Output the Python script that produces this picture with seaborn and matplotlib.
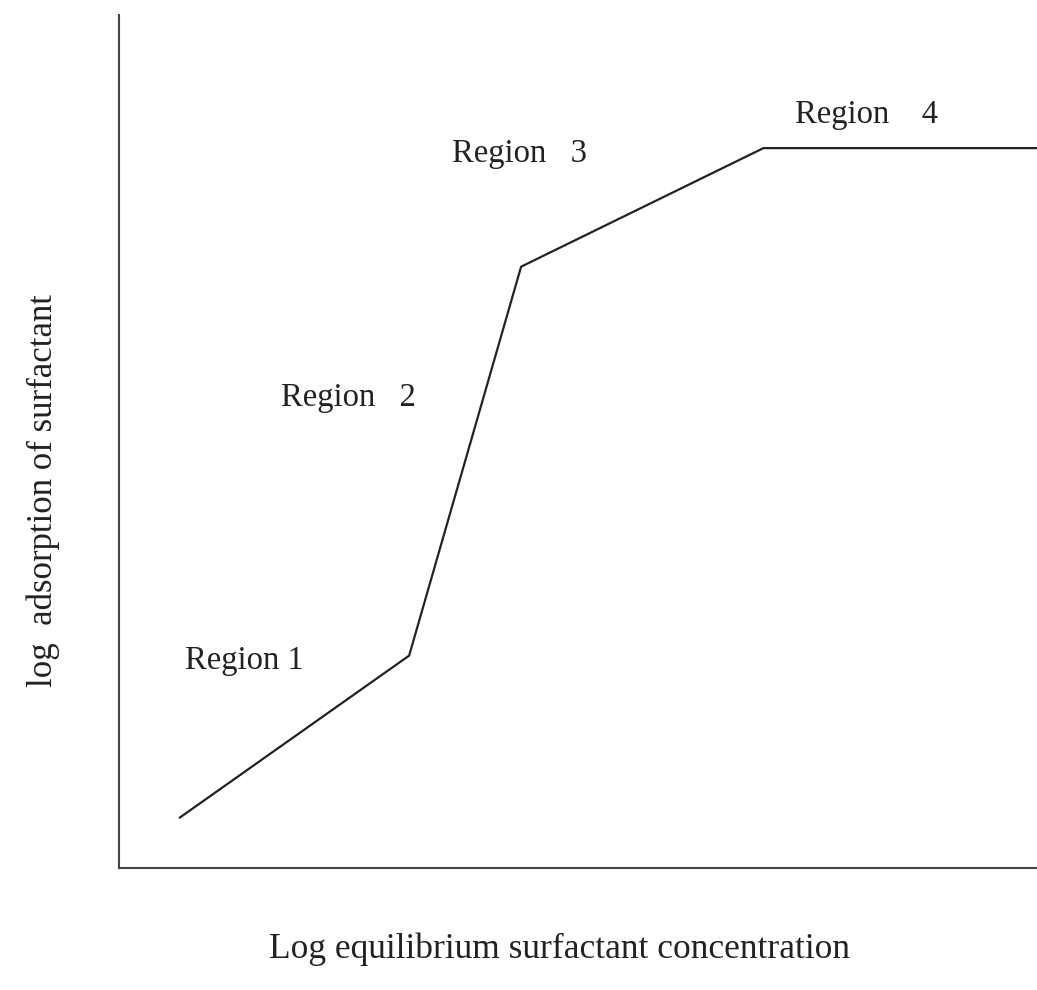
import numpy as np
import pandas as pd
import matplotlib.pyplot as plt
import seaborn as sns

# schematic adsorption isotherm (arbitrary units, 0-10 on both axes)
log_conc = [0.66, 3.16, 4.38, 7.02, 10.0]
log_ads = [0.59, 2.49, 7.05, 8.44, 8.44]

region_labels = ['Region 1', 'Region   2', 'Region   3', 'Region    4']
label_x = [0.72, 1.76, 3.63, 7.36]
label_y = [2.33, 5.42, 8.28, 8.73]

sns.set_style('white')
plt.rcParams['font.family'] = ['Liberation Serif', 'DejaVu Serif']

df = pd.DataFrame({'conc': log_conc, 'ads': log_ads})

fig = plt.figure(figsize=(10.37, 9.9), dpi=100)
ax = fig.add_axes([0.1148, 0.1232, 0.8852, 0.8616])

sns.lineplot(x='conc', y='ads', data=df, ax=ax, color='#222222',
             linewidth=1.6, sort=False)

for lab, x, y in zip(region_labels, label_x, label_y):
    ax.text(x, y, lab, fontsize=23.5, color='#222222', va='baseline', ha='left')

ax.set_xlim(0, 10)
ax.set_ylim(0, 10)
ax.set_xticks([])
ax.set_yticks([])
ax.set_xlabel('')
ax.set_ylabel('')

sns.despine(ax=ax, top=True, right=True)
for side in ['left', 'bottom']:
    ax.spines[side].set_color('#444444')
    ax.spines[side].set_linewidth(1.5)

fig.text(0.54, 0.032, 'Log equilibrium surfactant concentration',
         fontsize=25.5, color='#222222', ha='center', va='baseline')
fig.text(0.042, 0.505, 'log  adsorption of surfactant',
         fontsize=25, color='#222222', ha='center', va='center', rotation=90)

plt.savefig('out.png', dpi=100)
